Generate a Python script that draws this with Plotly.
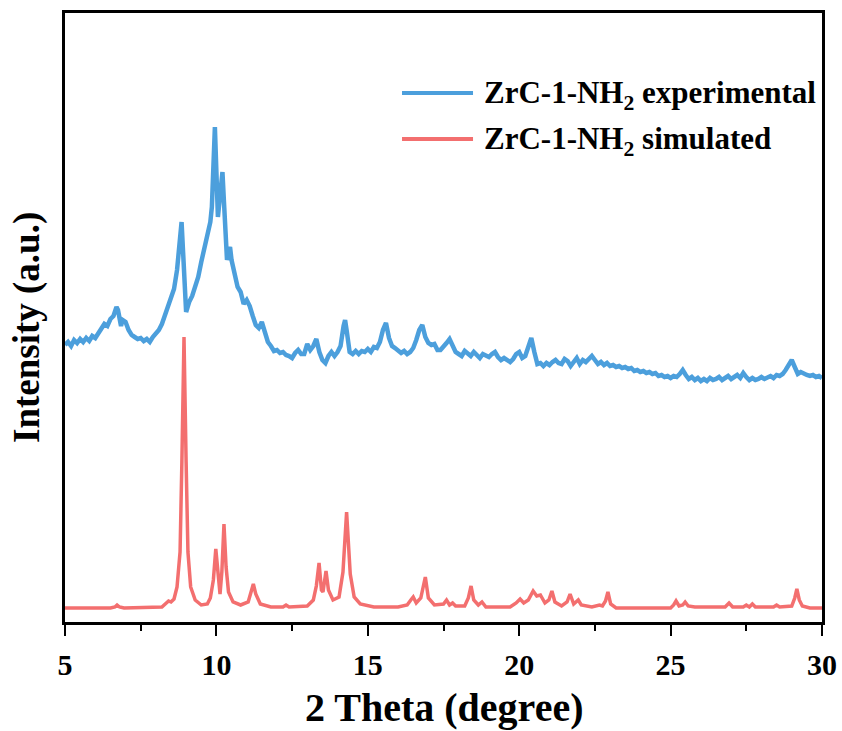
import plotly.graph_objects as go

# ---------------- data ----------------
exp_x = [5.0, 5.1, 5.2, 5.3, 5.4, 5.5, 5.6, 5.7, 5.8, 5.9, 6.0, 6.1, 6.2, 6.3, 6.4, 6.5, 6.6, 6.7, 6.75, 6.8,
         6.85, 6.9, 7.0, 7.1, 7.2, 7.3, 7.4, 7.5, 7.6, 7.7, 7.8, 7.9, 8.0, 8.1, 8.2, 8.3, 8.4, 8.5, 8.6, 8.7,
         8.8, 8.85, 8.9, 8.95, 9.0, 9.05, 9.1, 9.2, 9.3, 9.4, 9.5, 9.6, 9.7, 9.8, 9.85, 9.9, 9.95, 10.0, 10.05, 10.1,
         10.15, 10.2, 10.25, 10.3, 10.35, 10.4, 10.45, 10.5, 10.6, 10.7, 10.8, 10.9, 11.0, 11.1, 11.2, 11.3, 11.4, 11.5, 11.6, 11.7,
         11.8, 11.9, 12.0, 12.1, 12.2, 12.3, 12.4, 12.5, 12.6, 12.7, 12.8, 12.9, 13.0, 13.1, 13.2, 13.3, 13.4, 13.5, 13.6, 13.7,
         13.8, 13.9, 14.0, 14.1, 14.2, 14.25, 14.3, 14.4, 14.5, 14.6, 14.7, 14.8, 14.9, 15.0, 15.1, 15.2, 15.3, 15.4, 15.5, 15.6,
         15.7, 15.8, 15.9, 16.0, 16.1, 16.2, 16.3, 16.4, 16.5, 16.6, 16.7, 16.8, 16.9, 17.0, 17.1, 17.2, 17.3, 17.4, 17.5, 17.6,
         17.7, 17.8, 17.9, 18.0, 18.1, 18.2, 18.3, 18.4, 18.5, 18.6, 18.7, 18.8, 18.9, 19.0, 19.1, 19.2, 19.3, 19.4, 19.5, 19.6,
         19.7, 19.8, 19.9, 20.0, 20.1, 20.2, 20.3, 20.4, 20.5, 20.6, 20.7, 20.8, 20.9, 21.0, 21.1, 21.2, 21.3, 21.4, 21.5, 21.6,
         21.7, 21.8, 21.9, 22.0, 22.1, 22.2, 22.3, 22.4, 22.5, 22.6, 22.7, 22.8, 22.9, 23.0, 23.1, 23.2, 23.3, 23.4, 23.5, 23.6,
         23.7, 23.8, 23.9, 24.0, 24.1, 24.2, 24.3, 24.4, 24.5, 24.6, 24.7, 24.8, 24.9, 25.0, 25.1, 25.2, 25.3, 25.4, 25.5, 25.6,
         25.7, 25.8, 25.9, 26.0, 26.1, 26.2, 26.3, 26.4, 26.5, 26.6, 26.7, 26.8, 26.9, 27.0, 27.1, 27.2, 27.3, 27.4, 27.5, 27.6,
         27.7, 27.8, 27.9, 28.0, 28.1, 28.2, 28.3, 28.4, 28.5, 28.6, 28.7, 28.8, 28.9, 29.0, 29.1, 29.2, 29.3, 29.4, 29.5, 29.6,
         29.7, 29.8, 29.9, 30.0]
exp_y = [277, 280, 276, 282, 279, 283, 280, 284, 281, 286, 284, 289, 292, 298, 296, 303, 306, 315, 312, 300,
         296, 302, 300, 292, 287, 285, 283, 284, 281, 283, 280, 285, 289, 292, 298, 306, 316, 322, 333, 352,
         385, 400, 370, 330, 310, 315, 320, 326, 336, 345, 360, 375, 385, 400, 415, 455, 495, 450, 405, 420,
         440, 450, 420, 375, 362, 370, 375, 362, 350, 335, 330, 318, 322, 316, 306, 297, 294, 300, 290, 280,
         276, 271, 272, 269, 270, 267, 266, 264, 269, 272, 268, 268, 278, 272, 276, 283, 270, 262, 259, 266,
         270, 266, 270, 276, 296, 302, 292, 270, 268, 271, 268, 271, 270, 273, 270, 275, 274, 280, 292, 299,
         284, 276, 274, 272, 269, 271, 268, 270, 274, 282, 292, 297, 285, 279, 277, 278, 272, 272, 275, 279,
         283, 275, 270, 268, 266, 271, 268, 266, 270, 267, 264, 268, 266, 265, 268, 270, 265, 262, 264, 262,
         260, 263, 268, 270, 264, 266, 276, 284, 270, 258, 259, 256, 259, 257, 260, 262, 259, 258, 263, 261,
         256, 261, 264, 258, 262, 260, 263, 266, 262, 258, 260, 257, 259, 256, 257, 255, 256, 254, 255, 253,
         254, 251, 252, 250, 251, 249, 250, 248, 249, 246, 247, 245, 246, 244, 246, 245, 248, 252, 247, 243,
         245, 242, 244, 241, 243, 241, 244, 242, 243, 245, 242, 244, 246, 243, 245, 247, 244, 249, 245, 242,
         244, 242, 243, 245, 243, 244, 246, 244, 247, 246, 248, 252, 257, 262, 255, 248, 250, 248, 247, 246,
         247, 245, 246, 244]

sim_x = [5.0, 6.5, 6.65, 6.72, 6.8, 6.95, 8.2, 8.35, 8.42, 8.5, 8.6, 8.7, 8.8, 8.86, 8.93, 9.0, 9.06, 9.15, 9.3, 9.5,
         9.7, 9.8, 9.9, 9.98, 10.05, 10.12, 10.18, 10.25, 10.32, 10.4, 10.55, 10.8, 11.05, 11.15, 11.22, 11.3, 11.45, 11.8, 12.2, 12.3,
         12.4, 13.0, 13.2, 13.3, 13.39, 13.47, 13.52, 13.62, 13.7, 13.85, 14.05, 14.18, 14.3, 14.42, 14.55, 14.75, 15.2, 16.0, 16.3, 16.42,
         16.5, 16.6, 16.75, 16.9, 17.0, 17.2, 17.5, 17.6, 17.7, 17.8, 17.9, 18.2, 18.32, 18.41, 18.5, 18.65, 18.77, 18.9, 19.7, 19.9,
         20.03, 20.15, 20.3, 20.46, 20.58, 20.7, 20.85, 20.98, 21.08, 21.18, 21.4, 21.58, 21.68, 21.8, 21.95, 22.05, 22.4, 22.65, 22.75, 22.85,
         22.93, 23.02, 23.2, 25.0, 25.1, 25.18, 25.28, 25.4, 25.48, 25.58, 25.8, 26.8, 26.93, 27.05, 27.4, 27.5, 27.6, 27.7, 27.8, 28.4,
         28.5, 28.6, 29.0, 29.1, 29.17, 29.25, 29.35, 29.6, 30.0]
sim_y = [14, 14, 15, 17, 15, 14, 15, 19, 21, 20, 23, 35, 70, 160, 285, 160, 70, 35, 22, 17,
         18, 24, 42, 73, 45, 28, 50, 98, 55, 30, 20, 17, 20, 30, 38, 28, 18, 15, 15, 17,
         15, 16, 22, 36, 59, 32, 30, 51, 32, 22, 25, 50, 110, 48, 25, 18, 15, 15, 17, 22,
         25, 19, 24, 45, 24, 17, 18, 22, 17, 19, 16, 16, 24, 36, 22, 17, 20, 15, 15, 19,
         23, 19, 22, 31, 26, 27, 19, 22, 31, 20, 16, 20, 28, 18, 22, 17, 15, 17, 16, 21,
         30, 18, 14, 14, 17, 21, 16, 17, 20, 16, 15, 15, 19, 15, 15, 17, 15, 18, 15, 15,
         17, 15, 16, 24, 33, 22, 16, 14, 14]

series_names = ["ZrC-1-NH<sub>2</sub> experimental", "ZrC-1-NH<sub>2</sub> simulated"]
series_colors = ["#4C9FDC", "#F36F6F"]
x_ticks = [5, 10, 15, 20, 25, 30]
x_tick_labels = ["5", "10", "15", "20", "25", "30"]

FONT = "Liberation Serif"

fig = go.Figure()
fig.add_trace(go.Scatter(x=exp_x, y=exp_y, mode="lines",
                         line=dict(color=series_colors[0], width=4.5), name=series_names[0],
                         showlegend=False))
fig.add_trace(go.Scatter(x=sim_x, y=sim_y, mode="lines",
                         line=dict(color=series_colors[1], width=3.5), name=series_names[1],
                         showlegend=False))

# Manual legend
leg_y = [0.8686, 0.7931]
for name, col, yy in zip(series_names, series_colors, leg_y):
    fig.add_shape(type="line", xref="paper", yref="paper", x0=0.4452, x1=0.539, y0=yy, y1=yy,
                  line=dict(color=col, width=4))
    fig.add_annotation(xref="paper", yref="paper", x=0.5509, y=yy - 0.004, xanchor="left", yanchor="middle",
                       text=name, showarrow=False,
                       font=dict(family=FONT, size=31, color="black", weight="bold"))

# Axis titles
fig.add_annotation(xref="paper", yref="paper", x=0.5, y=-0.1412, xanchor="center", yanchor="middle",
                   text="2 Theta (degree)", showarrow=False,
                   font=dict(family=FONT, size=40, color="black", weight="bold"))
fig.add_annotation(xref="paper", yref="paper", x=-0.0505, y=0.484, xanchor="center", yanchor="middle",
                   text="Intensity (a.u.)", textangle=-90, showarrow=False,
                   font=dict(family=FONT, size=37, color="black", weight="bold"))

fig.update_layout(
    width=842, height=731,
    margin=dict(l=65, r=20, t=13, b=109, autoexpand=False),
    paper_bgcolor="white", plot_bgcolor="white",
    font=dict(family=FONT, color="black"),
)
fig.update_xaxes(range=[5, 30], tickmode="array", tickvals=x_ticks, ticktext=x_tick_labels,
                 ticks="outside", ticklen=11, tickwidth=2, tickcolor="black",
                 ticklabelstandoff=3,
                 tickfont=dict(family=FONT, size=30, color="black", weight="bold"),
                 minor=dict(dtick=2.5, ticks="outside", ticklen=6, tickwidth=2, tickcolor="black"),
                 showline=True, linecolor="black", linewidth=2.5, mirror=True, automargin=False,
                 showgrid=False, zeroline=False)
fig.update_yaxes(range=[0, 609], showticklabels=False, ticks="", automargin=False,
                 showline=True, linecolor="black", linewidth=2.5, mirror=True,
                 showgrid=False, zeroline=False)

fig.write_html("out.html")
